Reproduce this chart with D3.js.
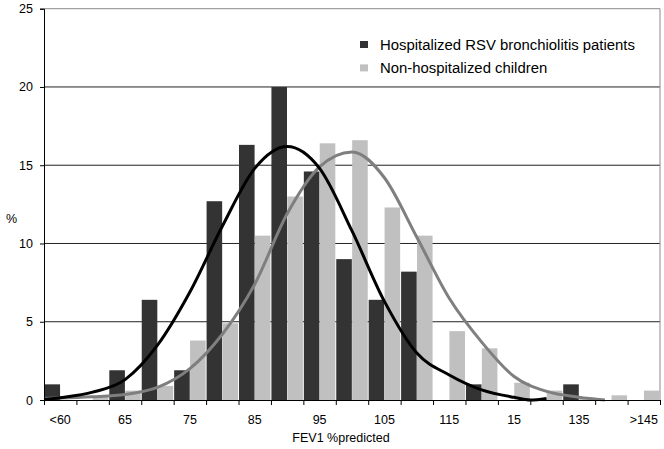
<!DOCTYPE html>
<html><head><meta charset="utf-8">
<script src="https://cdn.jsdelivr.net/npm/d3@7"></script>
<style>body{margin:0;background:#fff}svg{display:block}text{font-family:"Liberation Sans",Arial,sans-serif;fill:#000}</style>
</head><body>
<svg id="chart" width="664" height="449"></svg>
<script>
// Categories (FEV1 %predicted bins) and shown tick labels
const categories = ["<60","60","65","70","75","80","85","90","95","100","105","110","115","120","125","130","135","140",">145"];
const tickLabels = ["<60","65","75","85","95","105","115","15","135",">145"];
// Bar series (%)
const hospitalized = [1.0,0,1.9,6.4,1.9,12.7,16.3,20.0,14.6,9.0,6.4,8.2,0,1.0,0,0,1.0,0,0];
const nonHospitalized = [0,0.2,0.6,0.9,3.8,4.9,10.5,13.0,16.4,16.6,12.3,10.5,4.4,3.3,1.1,0.6,0.15,0.3,0.6];
// Fitted curves: FEV1 value and %
const curveHospX = [52.5,55,60,65,70,75,80,85,90,95,100,105,110,115,120,125,127.5,130];
const curveHospY = [0.03,0.15,0.5,1.3,3.5,6.9,11.1,14.8,16.2,14.8,10.8,6.3,3.0,1.6,0.65,0.17,0.0,0.1];
const curveNonX = [52.5,55,60,65,70,75,80,85,90,95,100,105,110,115,120,125,130,135,139];
const curveNonY = [0.1,0.12,0.2,0.35,0.8,2.0,4.2,7.4,11.9,14.9,15.85,14.2,10.4,6.5,3.7,1.5,0.55,0.18,0.0];
const yTicks = [0,5,10,15,20,25];
const seriesNames = ["Hospitalized RSV bronchiolitis patients","Non-hospitalized children"];

const svg = d3.select("#chart");
const L = 44, R = 660, T = 8.7, B = 400;
const colDark = "#333333", colLight = "#c0c0c0";

const y = d3.scaleLinear().domain([0,25]).range([B,T]);
const xBand = d3.scaleBand().domain(categories).range([L,R]);
const xVal = d3.scaleLinear().domain([52.5,147.5]).range([L,R]);
const inner = d3.scaleBand().domain([0,1]).range([0,xBand.bandwidth()]).paddingInner(0.02).paddingOuter(0.03);

// gridlines
svg.append("g").selectAll("line").data(yTicks.filter(d=>d>0&&d<25)).join("line")
  .attr("x1",L).attr("x2",R).attr("y1",d=>y(d)).attr("y2",d=>y(d))
  .attr("stroke","#222").attr("stroke-width",1);
// plot border top/right
svg.append("line").attr("x1",L).attr("x2",R).attr("y1",y(25)).attr("y2",y(25)).attr("stroke","#8a8a8a").attr("stroke-width",1);
svg.append("line").attr("x1",R).attr("x2",R).attr("y1",y(25)).attr("y2",B).attr("stroke","#8a8a8a").attr("stroke-width",1);

// bars
const series = [hospitalized, nonHospitalized];
const colors = [colDark, colLight];
series.forEach((vals,si)=>{
  svg.append("g").selectAll("rect").data(vals.map((v,i)=>({c:categories[i],v}))).join("rect")
    .attr("x",d=>xBand(d.c)+inner(si)).attr("width",inner.bandwidth())
    .attr("y",d=>y(d.v)).attr("height",d=>B-y(d.v)).attr("fill",colors[si]);
});

// curves
const line = d3.line().x(d=>xVal(d[0])).y(d=>y(d[1])).curve(d3.curveMonotoneX);
svg.append("path").datum(curveNonX.map((x,i)=>[x,curveNonY[i]])).attr("d",line)
  .attr("fill","none").attr("stroke","#7f7f7f").attr("stroke-width",3);
svg.append("path").datum(curveHospX.map((x,i)=>[x,curveHospY[i]])).attr("d",line)
  .attr("fill","none").attr("stroke","#000").attr("stroke-width",3);

// y axis
const yAxis = svg.append("g").attr("transform",`translate(${L},0)`)
  .call(d3.axisLeft(y).tickValues(yTicks).tickSize(4).tickPadding(7));
yAxis.select(".domain").attr("stroke","#000");
yAxis.selectAll("text").style("font-size","12.5px").style("font-family","Liberation Sans, Arial, sans-serif");

// x axis: tick marks at bin boundaries
const bounds = d3.range(categories.length+1).map(i=>52.5+5*i);
const xTicks = svg.append("g").attr("transform",`translate(0,${B})`)
  .call(d3.axisBottom(xVal).tickValues(bounds).tickSize(5).tickFormat(""));
xTicks.select(".domain").attr("stroke","#000");
// labels every other category
const xLab = svg.append("g").attr("transform",`translate(0,${B})`)
  .call(d3.axisBottom(xBand).tickSize(0).tickPadding(15)
    .tickFormat((d,i)=> i%2===0 ? tickLabels[i/2] : ""));
xLab.select(".domain").remove();
xLab.selectAll("text").style("font-size","12.5px").style("font-family","Liberation Sans, Arial, sans-serif");

// axis titles
svg.append("text").attr("x",341).attr("y",442).attr("text-anchor","middle").style("font-size","12.5px").text("FEV1 %predicted");
svg.append("text").attr("x",6).attr("y",223).style("font-size","12.5px").text("%");

// legend
seriesNames.forEach((n,i)=>{
  svg.append("rect").attr("x",360).attr("y",41+i*23.4).attr("width",8).attr("height",7).attr("fill",colors[i]);
  svg.append("text").attr("x",380).attr("y",49.5+i*23.4).style("font-size","14.9px").text(n);
});
</script>
</body></html>
